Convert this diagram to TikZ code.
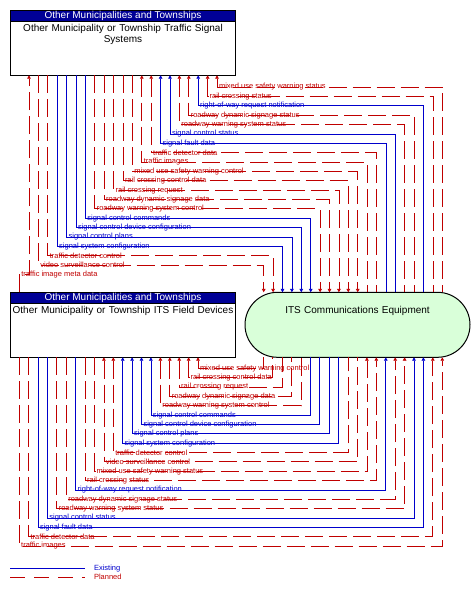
\documentclass[tikz,border=0pt]{standalone}
\usepackage{fontspec}
\setmainfont{Liberation Sans}
\usetikzlibrary{arrows.meta,positioning}
\definecolor{exblue}{RGB}{0,0,204}
\definecolor{plred}{RGB}{192,0,0}
\definecolor{hdrblue}{RGB}{0,0,150}
\definecolor{eqgreen}{RGB}{217,255,217}
\begin{document}
\begin{tikzpicture}[x=1pt, y=-1pt,
    every node/.style={inner sep=0pt, outer sep=0pt},
    sysbox/.style={draw, line width=1pt, minimum width=225.4pt, minimum height=65pt},
    hdr/.style={draw, line width=1pt, fill=hdrblue, text=white, minimum width=225.4pt, minimum height=11pt, font=\fontsize{10}{11}\selectfont},
    body/.style={align=center, text width=224pt, font=\fontsize{10}{11}\selectfont},
    ex/.style={draw=exblue, line width=0.8pt},
    pl/.style={draw=plred, line width=0.8pt, dash pattern=on 18pt off 6pt},
    tipstart/.style={{Triangle[width=3.6pt,length=3.4pt]}-},
    tipend/.style={-{Triangle[width=3.6pt,length=3.4pt]}},
    flab/.style={anchor=west, xshift=2pt, font=\fontsize{7.5}{8}\selectfont},
    exlab/.style={flab, text=exblue},
    pllab/.style={flab, text=plred}]
  \useasboundingbox (0,0) rectangle (471,592);
  \node [sysbox] (tsig) at (123,42.8) {};
  \node [hdr, anchor=north] (tsighdr) at (tsig.north) {Other Municipalities and Townships};
  \node [body, anchor=north] (tsigtxt) at ([yshift=-2.5pt]tsighdr.south) {Other Municipality or Township Traffic Signal\\Systems};
  \node [sysbox] (fdev) at (123,324.8) {};
  \node [hdr, anchor=north] (fdevhdr) at (fdev.north) {Other Municipalities and Townships};
  \node [body, anchor=north] (fdevtxt) at ([yshift=-2.5pt]fdevhdr.south) {Other Municipality or Township ITS Field Devices};
  \node [draw, line width=1pt, fill=eqgreen, rounded corners=32.5pt, minimum width=225pt, minimum height=65pt] (itsc) at (357.5,324.8) {};
  \node [body, anchor=north] (itsctxt) at ([yshift=-14pt]itsc.north) {ITS Communications Equipment};

  \draw [pl, tipstart] (tsig.south -| 217,0) -- (217,87) node [pllab] (u0) {mixed use safety warning status} -| (itsc.north -| 442.3,0);
  \draw [pl, tipstart] (tsig.south -| 207.6,0) -- (207.6,96.4) node [pllab] (u1) {rail crossing status} -| (itsc.north -| 432.9,0);
  \draw [ex, tipstart] (tsig.south -| 198.2,0) -- (198.2,105.7) node [exlab] (u2) {right-of-way request notification} -| (itsc.north -| 423.5,0);
  \draw [pl, tipstart] (tsig.south -| 188.8,0) -- (188.8,115.1) node [pllab] (u3) {roadway dynamic signage status} -| (itsc.north -| 414.1,0);
  \draw [pl, tipstart] (tsig.south -| 179.4,0) -- (179.4,124.5) node [pllab] (u4) {roadway warning system status} -| (itsc.north -| 404.7,0);
  \draw [ex, tipstart] (tsig.south -| 170,0) -- (170,133.9) node [exlab] (u5) {signal control status} -| (itsc.north -| 395.3,0);
  \draw [ex, tipstart] (tsig.south -| 160.6,0) -- (160.6,143.2) node [exlab] (u6) {signal fault data} -| (itsc.north -| 385.9,0);
  \draw [pl, tipstart] (tsig.south -| 151.2,0) -- (151.2,152.6) node [pllab] (u7) {traffic detector data} -| (itsc.north -| 376.5,0);
  \draw [pl, tipstart] (tsig.south -| 141.8,0) -- (141.8,162) node [pllab] (u8) {traffic images} -| (itsc.north -| 367.1,0);
  \draw [pl, tipend] (tsig.south -| 132.4,0) -- (132.4,171.3) node [pllab] (u9) {mixed use safety warning control} -| (itsc.north -| 357.7,0);
  \draw [pl, tipend] (tsig.south -| 123,0) -- (123,180.7) node [pllab] (u10) {rail crossing control data} -| (itsc.north -| 348.3,0);
  \draw [pl, tipend] (tsig.south -| 113.6,0) -- (113.6,190.1) node [pllab] (u11) {rail crossing request} -| (itsc.north -| 338.9,0);
  \draw [pl, tipend] (tsig.south -| 104.2,0) -- (104.2,199.4) node [pllab] (u12) {roadway dynamic signage data} -| (itsc.north -| 329.5,0);
  \draw [pl, tipend] (tsig.south -| 94.8,0) -- (94.8,208.8) node [pllab] (u13) {roadway warning system control} -| (itsc.north -| 320.1,0);
  \draw [ex, tipend] (tsig.south -| 85.4,0) -- (85.4,218.2) node [exlab] (u14) {signal control commands} -| (itsc.north -| 310.7,0);
  \draw [ex, tipend] (tsig.south -| 76,0) -- (76,227.6) node [exlab] (u15) {signal control device configuration} -| (itsc.north -| 301.3,0);
  \draw [ex, tipend] (tsig.south -| 66.6,0) -- (66.6,236.9) node [exlab] (u16) {signal control plans} -| (itsc.north -| 291.9,0);
  \draw [ex, tipend] (tsig.south -| 57.2,0) -- (57.2,246.3) node [exlab] (u17) {signal system configuration} -| (itsc.north -| 282.5,0);
  \draw [pl, tipend] (tsig.south -| 47.8,0) -- (47.8,255.7) node [pllab] (u18) {traffic detector control} -| (itsc.north -| 273.1,0);
  \draw [pl, tipend] (tsig.south -| 38.4,0) -- (38.4,265) node [pllab] (u19) {video surveillance control} -| (itsc.north -| 263.7,0);
  \draw [pl, tipend] (fdev.north -| 19.3,0) -- (19.3,274.4) node [pllab] (u20) {traffic image meta data} -| (tsig.south -| 29,0);

  \draw [pl, tipstart] (fdev.south -| 198,0) -- (198,368.3) node [pllab] (d0) {mixed use safety warning control} -| (itsc.south -| 263.3,0);
  \draw [pl, tipstart] (fdev.south -| 188.6,0) -- (188.6,377.7) node [pllab] (d1) {rail crossing control data} -| (itsc.south -| 272.7,0);
  \draw [pl, tipstart] (fdev.south -| 179.2,0) -- (179.2,387) node [pllab] (d2) {rail crossing request} -| (itsc.south -| 282.1,0);
  \draw [pl, tipstart] (fdev.south -| 169.8,0) -- (169.8,396.4) node [pllab] (d3) {roadway dynamic signage data} -| (itsc.south -| 291.6,0);
  \draw [pl, tipstart] (fdev.south -| 160.4,0) -- (160.4,405.7) node [pllab] (d4) {roadway warning system control} -| (itsc.south -| 301,0);
  \draw [ex, tipstart] (fdev.south -| 150.9,0) -- (150.9,415.1) node [exlab] (d5) {signal control commands} -| (itsc.south -| 310.4,0);
  \draw [ex, tipstart] (fdev.south -| 141.5,0) -- (141.5,424.4) node [exlab] (d6) {signal control device configuration} -| (itsc.south -| 319.8,0);
  \draw [ex, tipstart] (fdev.south -| 132.1,0) -- (132.1,433.8) node [exlab] (d7) {signal control plans} -| (itsc.south -| 329.2,0);
  \draw [ex, tipstart] (fdev.south -| 122.7,0) -- (122.7,443.1) node [exlab] (d8) {signal system configuration} -| (itsc.south -| 338.7,0);
  \draw [pl, tipstart] (fdev.south -| 113.3,0) -- (113.3,452.5) node [pllab] (d9) {traffic detector control} -| (itsc.south -| 348.1,0);
  \draw [pl, tipstart] (fdev.south -| 103.9,0) -- (103.9,461.8) node [pllab] (d10) {video surveillance control} -| (itsc.south -| 357.5,0);
  \draw [pl, tipend] (fdev.south -| 94.5,0) -- (94.5,471.2) node [pllab] (d11) {mixed use safety warning status} -| (itsc.south -| 366.9,0);
  \draw [pl, tipend] (fdev.south -| 85.1,0) -- (85.1,480.5) node [pllab] (d12) {rail crossing status} -| (itsc.south -| 376.3,0);
  \draw [ex, tipend] (fdev.south -| 75.7,0) -- (75.7,489.9) node [exlab] (d13) {right-of-way request notification} -| (itsc.south -| 385.8,0);
  \draw [pl, tipend] (fdev.south -| 66.3,0) -- (66.3,499.2) node [pllab] (d14) {roadway dynamic signage status} -| (itsc.south -| 395.2,0);
  \draw [pl, tipend] (fdev.south -| 56.8,0) -- (56.8,508.6) node [pllab] (d15) {roadway warning system status} -| (itsc.south -| 404.6,0);
  \draw [ex, tipend] (fdev.south -| 47.4,0) -- (47.4,517.9) node [exlab] (d16) {signal control status} -| (itsc.south -| 414,0);
  \draw [ex, tipend] (fdev.south -| 38,0) -- (38,527.3) node [exlab] (d17) {signal fault data} -| (itsc.south -| 423.4,0);
  \draw [pl, tipend] (fdev.south -| 28.6,0) -- (28.6,536.6) node [pllab] (d18) {traffic detector data} -| (itsc.south -| 432.8,0);
  \draw [pl, tipend] (fdev.south -| 19.2,0) -- (19.2,546) node [pllab] (d19) {traffic images} -| (itsc.south -| 442.3,0);

  \coordinate (exa) at (10,568.3);
  \coordinate (exb) at (85,568.3);
  \coordinate (pla) at (10,577.3);
  \coordinate (plb) at (85,577.3);
  \draw [ex] (exa) -- (exb);
  \draw [pl, dash pattern=on 15pt off 9pt] (pla) -- (plb);
  \node [exlab] (exl) at (92,568.3) {Existing};
  \node [pllab] (pll) at (92,577.3) {Planned};
\end{tikzpicture}
\end{document}
